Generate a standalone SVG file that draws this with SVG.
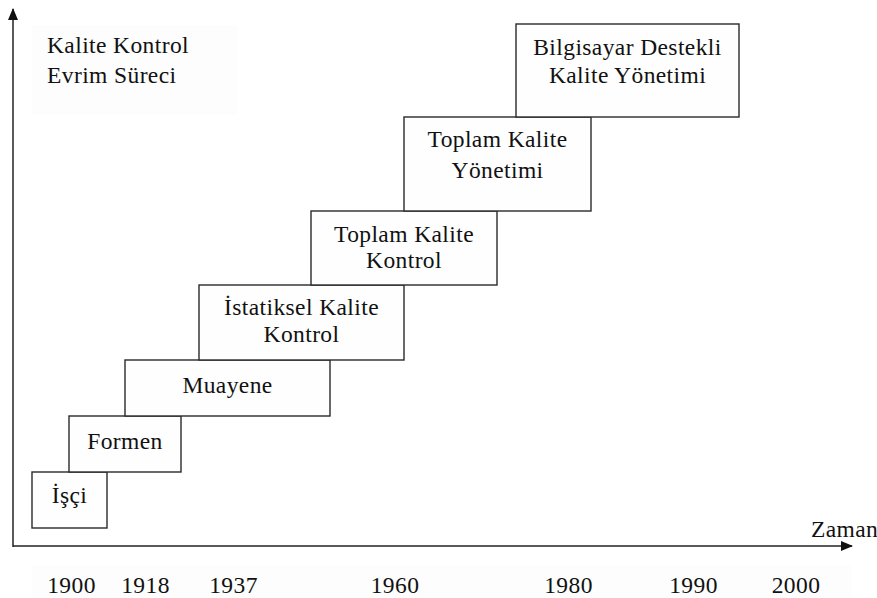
<svg xmlns="http://www.w3.org/2000/svg" width="877" height="598" viewBox="0 0 877 598">
  <style>
    .box { fill: #fefefe; stroke: #2a2a2a; stroke-width: 1.4; }
    .axis { stroke: #222; stroke-width: 1.5; fill: none; }
    text { font-family: 'Liberation Serif', 'DejaVu Serif', 'Times New Roman', serif; font-size: 23.5px; letter-spacing: 0.4px; fill: #111; }
    .c { text-anchor: middle; }
  </style>
  <defs>
    <marker id="arrow" viewBox="0 0 12 10" refX="11" refY="5" markerWidth="12" markerHeight="10" markerUnits="userSpaceOnUse" orient="auto">
      <path d="M0,0 L12,5 L0,10 Z" fill="#111"/>
    </marker>
  </defs>

  <rect width="877" height="598" fill="#ffffff"/>

  <!-- title panel and year strip backgrounds -->
  <rect x="32" y="25" width="206" height="90" fill="#fdfdfd"/>
  <rect x="32" y="565" width="820" height="33" fill="#fdfdfd"/>

  <!-- axes -->
  <g id="axes">
    <line class="axis" x1="13" y1="547" x2="13" y2="9" marker-end="url(#arrow)"/>
    <line class="axis" x1="13" y1="546" x2="852" y2="546" marker-end="url(#arrow)"/>
  </g>

  <g id="title">
    <text x="47" y="53">Kalite Kontrol</text>
    <text x="47" y="83">Evrim Süreci</text>
  </g>

  <!-- evolution stages -->
  <g id="isci">
    <rect class="box" x="32" y="472" width="75" height="56"/>
    <text class="c" x="69.5" y="503">İşçi</text>
  </g>
  <g id="formen">
    <rect class="box" x="69" y="416" width="112" height="56"/>
    <text class="c" x="125" y="449">Formen</text>
  </g>
  <g id="muayene">
    <rect class="box" x="125" y="360" width="205" height="56"/>
    <text class="c" x="227.5" y="393">Muayene</text>
  </g>
  <g id="istatiksel">
    <rect class="box" x="199" y="285" width="205" height="75"/>
    <text class="c" x="301.5" y="315">İstatiksel Kalite</text>
    <text class="c" x="301.5" y="342">Kontrol</text>
  </g>
  <g id="tkk">
    <rect class="box" x="311" y="211" width="186" height="74"/>
    <text class="c" x="404" y="242">Toplam Kalite</text>
    <text class="c" x="404" y="268">Kontrol</text>
  </g>
  <g id="tky">
    <rect class="box" x="404" y="117" width="187" height="94"/>
    <text class="c" x="497.5" y="147">Toplam Kalite</text>
    <text class="c" x="497.5" y="178">Yönetimi</text>
  </g>
  <g id="bdky">
    <rect class="box" x="516" y="24" width="223" height="93"/>
    <text class="c" x="627.5" y="55">Bilgisayar Destekli</text>
    <text class="c" x="627.5" y="83">Kalite Yönetimi</text>
  </g>

  <!-- time axis labels -->
  <g id="labels">
    <text x="811" y="537">Zaman</text>
    <text class="c" x="71.5" y="593">1900</text>
    <text class="c" x="145.5" y="593">1918</text>
    <text class="c" x="233.5" y="593">1937</text>
    <text class="c" x="395" y="593">1960</text>
    <text class="c" x="568.5" y="593">1980</text>
    <text class="c" x="693.5" y="593">1990</text>
    <text class="c" x="796" y="593">2000</text>
  </g>
</svg>
